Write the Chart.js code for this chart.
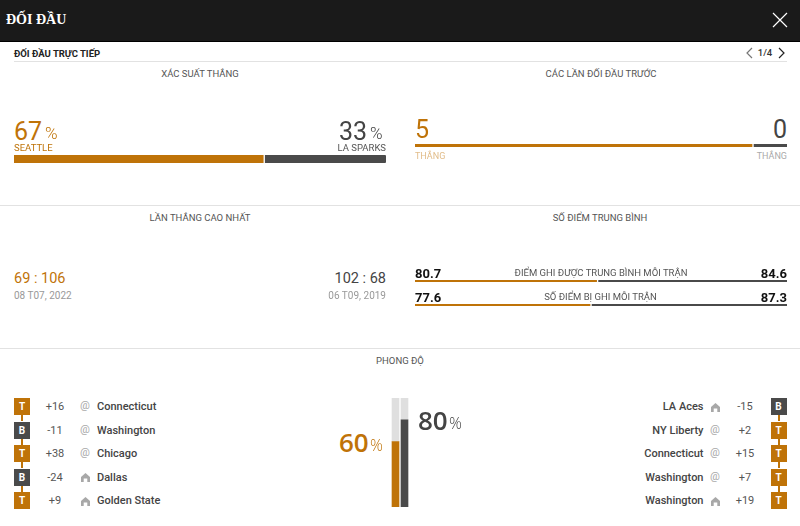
<!DOCTYPE html>
<html>
<head>
<meta charset="utf-8">
<title>Đối đầu</title>
<script src="https://cdn.jsdelivr.net/npm/chart.js@4"></script>
<style>
    html, body { margin: 0; padding: 0; background: #fff; }
    body { width: 800px; height: 526px; position: relative; overflow: hidden; font-family: Roboto, sans-serif; color: #444; }
    .header { position: absolute; left: 0; top: 0; width: 800px; height: 41px; background: #1a1a1a; border-bottom: 1px solid #000; }
    .rule { position: absolute; height: 1px; background: #e2e2e2; }
    .txt { position: absolute; white-space: nowrap; line-height: 1; }
    canvas { position: absolute; display: block; }
    svg { position: absolute; }
    .badge { position: absolute; width: 16px; height: 17px; color: #fff; font-size: 10px; font-weight: 700; text-align: center; line-height: 17px; }
    .link { position: absolute; width: 2px; height: 6px; background: #bf7308; }
</style>
</head>
<body>
<div class="header"></div>
<div class="rule" style="left:14px;top:61px;width:773px"></div>
<div class="rule" style="left:0;top:205px;width:800px"></div>
<div class="rule" style="left:0;top:348px;width:800px"></div>

<svg style="left:772px;top:12px" width="16" height="16"><path d="M1 1 L15 15 M15 1 L1 15" stroke="#fff" stroke-width="1.2" fill="none"/></svg>
<svg style="left:745px;top:47px" width="9" height="12"><path d="M7 1 L2 6 L7 11" stroke="#777" stroke-width="1.2" fill="none"/></svg>
<svg style="left:777px;top:47px" width="9" height="12"><path d="M2 1 L7 6 L2 11" stroke="#222" stroke-width="1.2" fill="none"/></svg>

<canvas id="probBar" width="372" height="8" style="left:14px;top:155px"></canvas>
<canvas id="h2hBar" width="372" height="3" style="left:415px;top:144px"></canvas>
<canvas id="scoredBar" width="372" height="2" style="left:415px;top:280px"></canvas>
<canvas id="concededBar" width="372" height="2" style="left:415px;top:304px"></canvas>
<canvas id="formBars" width="18" height="109" style="left:391px;top:398px"></canvas>

<script>
const ORANGE = "#bf7308";
const DARK = "#4a4a4a";
const TRACK = "#dfdfdf";

const teams = ["SEATTLE", "LA SPARKS"];
const winChance = [67, 33];
const h2hWins = [5, 0];
const h2hShare = [90.6, 9.4];   // loser still gets a stub in the picture
const pointsScored = [80.7, 84.6];
const pointsConceded = [77.6, 87.3];
const formPercent = [60, 80];
const formLeft = [100 - 60, 100 - 80];

const highScores = ["69 : 106", "102 : 68"];
const highDates = ["08 T07, 2022", "06 T09, 2019"];

const leftResults = ["T", "B", "T", "B", "T"];
const leftMargins = ["+16", "-11", "+38", "-24", "+9"];
const leftVenues = ["@", "@", "@", "h", "h"];
const leftOpponents = ["Connecticut", "Washington", "Chicago", "Dallas", "Golden State"];

const rightResults = ["B", "T", "T", "T", "T"];
const rightMargins = ["-15", "+2", "+15", "+7", "+19"];
const rightVenues = ["h", "@", "@", "@", "h"];
const rightOpponents = ["LA Aces", "NY Liberty", "Connecticut", "Washington", "Washington"];

const rowY = [406.5, 430, 453.5, 477, 500.5];

// anchor: l, c or r at x; y is the vertical middle of the line
function put(text, x, y, size, color, anchor, extra) {
    let el = document.createElement("div");
    el.className = "txt";
    el.textContent = text;
    el.style.fontSize = size + "px";
    el.style.color = color;
    el.style.top = (y - size / 2) + "px";
    if (anchor === "r") el.style.right = (800 - x) + "px";
    else if (anchor === "c") { el.style.left = x + "px"; el.style.transform = "translateX(-50%)"; }
    else el.style.left = x + "px";
    if (extra) Object.assign(el.style, extra);
    document.body.appendChild(el);
    return el;
}

function house(cx, cy) {
    let s = document.createElementNS("http://www.w3.org/2000/svg", "svg");
    s.setAttribute("width", 9);
    s.setAttribute("height", 9);
    s.style.left = (cx - 4.5) + "px";
    s.style.top = (cy - 4) + "px";
    s.innerHTML = '<path d="M0 4 L4.5 0 L9 4 V9 H6.3 V5.5 H2.7 V9 H0 Z" fill="#a8a8a8"/>';
    document.body.appendChild(s);
}

function splitBar(id, values, radius) {
    new Chart(document.getElementById(id), {
        type: "bar",
        data: {
            labels: [""],
            datasets: [
                { data: [values[0]], backgroundColor: ORANGE, borderRadius: radius, barPercentage: 1, categoryPercentage: 1 },
                { data: [values[1]], backgroundColor: DARK, borderColor: "#fff", borderWidth: { left: 2 }, borderSkipped: false, borderRadius: radius, barPercentage: 1, categoryPercentage: 1 }
            ]
        },
        options: {
            indexAxis: "y",
            responsive: false,
            animation: false,
            devicePixelRatio: 1,
            events: [],
            plugins: { legend: { display: false }, tooltip: { enabled: false } },
            scales: {
                x: { display: false, stacked: true, min: 0, max: values[0] + values[1] },
                y: { display: false, stacked: true }
            }
        }
    });
}

splitBar("probBar", winChance, 1);
splitBar("h2hBar", h2hShare, 0);
splitBar("scoredBar", pointsScored, 0);
splitBar("concededBar", pointsConceded, 0);

new Chart(document.getElementById("formBars"), {
    type: "bar",
    data: {
        labels: teams,
        datasets: [
            { data: formPercent, backgroundColor: [ORANGE, DARK], barThickness: 7 },
            { data: formLeft, backgroundColor: TRACK, barThickness: 7 }
        ]
    },
    options: {
        responsive: false,
        animation: false,
        devicePixelRatio: 1,
        events: [],
        plugins: { legend: { display: false }, tooltip: { enabled: false } },
        scales: {
            x: { display: false, stacked: true },
            y: { display: false, stacked: true, min: 0, max: 100 }
        }
    }
});

// header
put("ĐỐI ĐẦU", 6, 20, 14, "#fff", "l", { fontFamily: "'Liberation Serif', serif", fontWeight: "700" });
put("ĐỐI ĐẦU TRỰC TIẾP", 14, 54, 9.5, "#222", "l", { fontWeight: "700" });
put("1/4", 765, 53, 9.5, "#333", "c", { fontWeight: "500" });

// section titles
put("XÁC SUẤT THẮNG", 200, 74, 9.5, "#555", "c");
put("CÁC LẦN ĐỐI ĐẦU TRƯỚC", 601, 74, 9.5, "#555", "c");
put("LẦN THẮNG CAO NHẤT", 200, 218, 9.5, "#555", "c");
put("SỐ ĐIỂM TRUNG BÌNH", 600, 218, 9.5, "#555", "c");
put("PHONG ĐỘ", 400, 361, 9.5, "#555", "c");

// win chance
put(winChance[0], 14, 131, 25, ORANGE, "l");
put("%", 45, 133, 17, ORANGE, "l", { fontWeight: "300" });
put(winChance[1], 339, 131, 25, "#444", "l");
put("%", 370, 133, 17, "#444", "l", { fontWeight: "300" });
put(teams[0], 14, 148, 9.5, ORANGE, "l");
put(teams[1], 386, 148, 9.5, "#555", "r");

// head to head
put(h2hWins[0], 415, 129, 25, ORANGE, "l");
put(h2hWins[1], 787, 129, 25, "#444", "r");
put("THẮNG", 415, 156, 9, "#e2bd8a", "l");
put("THẮNG", 787, 156, 9, "#aaa", "r");

// highest wins
put(highScores[0], 14, 279, 14.5, ORANGE, "l");
put(highScores[1], 386, 279, 14.5, "#444", "r");
put(highDates[0], 14, 296, 10, "#999", "l");
put(highDates[1], 386, 296, 10, "#999", "r");

// averages
put(pointsScored[0], 415, 273.5, 13, "#111", "l", { fontWeight: "700" });
put(pointsScored[1], 787, 273.5, 13, "#111", "r", { fontWeight: "700" });
put("ĐIỂM GHI ĐƯỢC TRUNG BÌNH MỖI TRẬN", 601, 273, 9.5, "#555", "c");
put(pointsConceded[0], 415, 297, 13, "#111", "l", { fontWeight: "700" });
put(pointsConceded[1], 787, 297, 13, "#111", "r", { fontWeight: "700" });
put("SỐ ĐIỂM BỊ GHI MỖI TRẬN", 600.5, 297, 9.5, "#555", "c");

// form percentages
const bigFont = "'Open Sans', sans-serif";
put(formPercent[0], 339, 442, 26, ORANGE, "l", { fontFamily: bigFont, fontWeight: "600" });
put("%", 370, 445, 16, ORANGE, "l", { fontFamily: bigFont, fontWeight: "300" });
put(formPercent[1], 418, 420, 26, "#444", "l", { fontFamily: bigFont, fontWeight: "600" });
put("%", 449, 423, 16, "#444", "l", { fontFamily: bigFont, fontWeight: "300" });

// form rows
function badge(result, x, y) {
    let el = document.createElement("div");
    el.className = "badge";
    el.textContent = result;
    el.style.left = x + "px";
    el.style.top = (y - 8.5) + "px";
    el.style.background = result === "T" ? ORANGE : DARK;
    document.body.appendChild(el);
}

function link(x, y) {
    let el = document.createElement("div");
    el.className = "link";
    el.style.left = x + "px";
    el.style.top = y + "px";
    document.body.appendChild(el);
}

function venue(kind, x, y) {
    if (kind === "@") put("@", x, y - 1, 11, "#a8a8a8", "c");
    else house(x, y);
}

rowY.forEach(function (y, i) {
    badge(leftResults[i], 14, y);
    put(leftMargins[i], 55, y, 11, "#555", "c");
    venue(leftVenues[i], 85, y);
    put(leftOpponents[i], 97, y, 11, "#444", "l", { fontWeight: "500" });

    put(rightOpponents[i], 703.5, y, 11, "#444", "r", { fontWeight: "500" });
    venue(rightVenues[i], 715, y);
    put(rightMargins[i], 745, y, 11, "#555", "c");
    badge(rightResults[i], 770.5, y);

    if (i < rowY.length - 1) {
        link(21, y + 8.5);
        link(777.5, y + 8.5);
    }
});
</script>
</body>
</html>
